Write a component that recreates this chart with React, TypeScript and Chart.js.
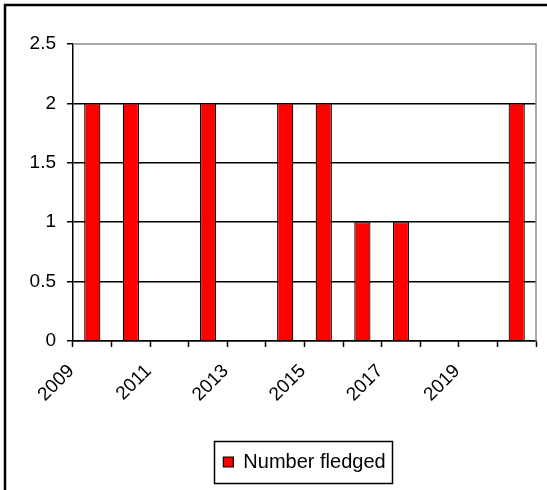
import React, { useEffect, useRef } from "react";
import { Chart, registerables } from "chart.js";

Chart.register(...registerables);

const years = ["2009", "2010", "2011", "2012", "2013", "2014", "2015", "2016", "2017", "2018", "2019", "2020"];
const fledged = [2, 2, 0, 2, 0, 2, 2, 1, 1, 0, 0, 2];
const seriesName = "Number fledged";
const yMin = 0;
const yMax = 2.5;
const yStep = 0.5;

const FONT = "'Liberation Sans', Arial, sans-serif";

const framePlugin = {
  id: "frame",
  beforeDraw(chart: any) {
    const ctx = chart.ctx;
    ctx.save();
    ctx.fillStyle = "#fff";
    ctx.fillRect(0, 0, chart.width, chart.height);
    ctx.strokeStyle = "#000";
    ctx.lineWidth = 2.5;
    ctx.beginPath();
    ctx.moveTo(5, chart.height + 5);
    ctx.lineTo(5, 5);
    ctx.lineTo(chart.width + 5, 5);
    ctx.stroke();
    ctx.restore();
  },
  afterDraw(chart: any) {
    const ctx = chart.ctx;
    const a = chart.chartArea;
    ctx.save();
    ctx.strokeStyle = "#8c8c8c";
    ctx.lineWidth = 1.5;
    ctx.beginPath();
    ctx.moveTo(a.left, a.top);
    ctx.lineTo(a.right, a.top);
    ctx.lineTo(a.right, a.bottom);
    ctx.stroke();
    const lg = chart.legend;
    if (lg && lg.legendHitBoxes && lg.legendHitBoxes.length) {
      const hb = lg.legendHitBoxes[0];
      const cy = hb.top + hb.height / 2;
      ctx.strokeStyle = "#000";
      ctx.lineWidth = 1.5;
      ctx.strokeRect(Math.round(hb.left - 9) + 0.5, Math.round(cy - 21) + 0.5, Math.round(hb.width + 16), 42);
    }
    ctx.restore();
  },
};

export default function App() {
  const ref = useRef<HTMLCanvasElement | null>(null);
  useEffect(() => {
    if (!ref.current) return;
    const chart = new Chart(ref.current, {
      type: "bar",
      data: {
        labels: years,
        datasets: [
          {
            label: seriesName,
            data: fledged,
            backgroundColor: "#ff0000",
            borderColor: "#000000",
            borderWidth: 1.2,
            categoryPercentage: 1,
            barPercentage: 0.42,
          },
        ],
      },
      options: {
        responsive: false,
        animation: false,
        layout: { padding: { top: 44, right: 11, left: 0, bottom: 8 } },
        plugins: {
          tooltip: { enabled: false },
          legend: {
            position: "bottom",
            fullSize: false,
            labels: {
              boxWidth: 10,
              boxHeight: 10,
              padding: 10,
              color: "#000",
              font: { family: FONT, size: 20 },
            },
          },
        },
        scales: {
          x: {
            type: "category",
            offset: true,
            afterFit: (s: any) => {
              s.height = 101;
            },
            grid: {
              offset: true,
              drawOnChartArea: false,
              drawTicks: true,
              tickLength: 6,
              tickColor: "#000",
              tickWidth: 1.5,
            },
            border: { color: "#000", width: 1.5 },
            ticks: {
              autoSkip: false,
              maxRotation: 45,
              minRotation: 45,
              padding: 13,
              labelOffset: -21,
              color: "#000",
              font: { family: FONT, size: 19 },
              callback: (_v: any, i: number) => (i % 2 === 0 ? years[i] : ""),
            },
          },
          y: {
            min: yMin,
            max: yMax,
            afterFit: (s: any) => {
              s.width = 73;
            },
            grid: {
              color: (c: any) => (c.tick && c.tick.value === yMax ? "rgba(0,0,0,0)" : "#000"),
              lineWidth: 1.5,
              tickLength: 6,
              tickColor: "#000",
              tickWidth: 1.5,
            },
            border: { color: "#000", width: 1.5 },
            ticks: {
              stepSize: yStep,
              padding: 11,
              color: "#000",
              font: { family: FONT, size: 19 },
              callback: (v: any) => String(Number(v)),
            },
          },
        },
      },
      plugins: [framePlugin],
    });
    return () => chart.destroy();
  }, []);
  return (
    <div style={{ position: "absolute", left: 0, top: 0, width: 547, height: 490, background: "#fff" }}>
      <canvas ref={ref} width={547} height={490} style={{ display: "block" }} />
    </div>
  );
}
